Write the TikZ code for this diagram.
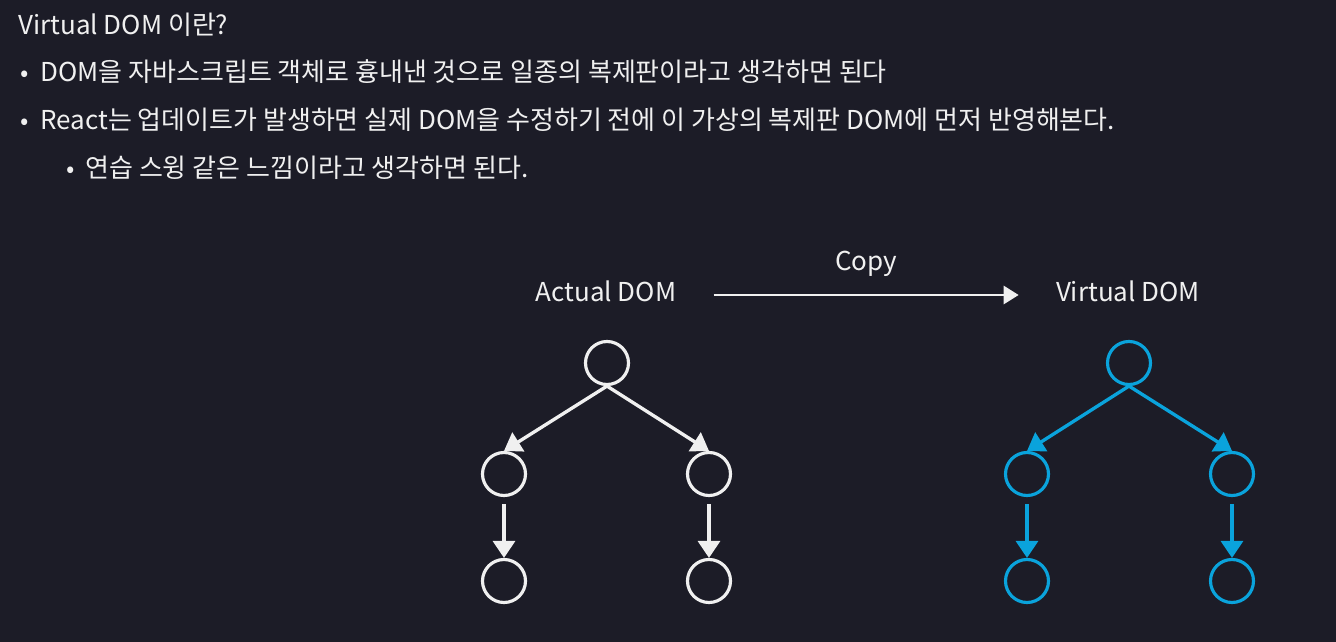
\documentclass[tikz,border=0pt]{standalone}
\usepackage{fontspec}
\setmainfont{Noto Sans CJK KR}
\usetikzlibrary{arrows.meta}

\definecolor{bgdark}{HTML}{1C1C27}
\definecolor{chalk}{HTML}{F0F0F0}
\definecolor{vblue}{HTML}{0AA3DC}

\begin{document}
\begin{tikzpicture}[
    x=0.02cm,
    y=-0.02cm,
    line/.style={
      font=\fontsize{14.8}{17}\selectfont,
      text=chalk,
      anchor=base west,
      inner sep=0pt
    },
    dot/.style={
      font=\fontsize{14}{16}\selectfont,
      text=chalk,
      anchor=base,
      inner sep=0pt
    },
    title/.style={
      font=\fontsize{14.8}{17}\selectfont,
      text=chalk,
      inner sep=0pt,
      text height=0.73em,
      text depth=0pt
    },
    dom/.style={
      circle,
      draw,
      line width=1.8pt,
      minimum size=0.86cm,
      inner sep=0pt
    },
    link/.style={
      line width=1.9pt,
      -{Triangle[length=0.34cm,width=0.44cm]}
    }
  ]

    % --- Background
    \fill[bgdark] (0,0) rectangle (1336,642);
    \useasboundingbox (0,0) rectangle (1336,642);

    % --- Text block
    \node[line] (head) at (18,35) {Virtual DOM 이란?};
    \node[dot] (b1) at (25,82) {•};
    \node[line] (t1) at (40,82) {DOM을 자바스크립트 객체로 흉내낸 것으로 일종의 복제판이라고 생각하면 된다};
    \node[dot] (b2) at (25,130) {•};
    \node[line] (t2) at (40,130) {React는 업데이트가 발생하면 실제 DOM을 수정하기 전에 이 가상의 복제판 DOM에 먼저 반영해본다.};
    \node[dot] (b3) at (71,177) {•};
    \node[line] (t3) at (85,177) {연습 스윙 같은 느낌이라고 생각하면 된다.};

    % --- Titles and copy arrow
    \node[title] (actual) at (606,295) {Actual DOM};
    \node[title] (virtual) at (1128,295) {Virtual DOM};
    \draw[chalk, line width=1.5pt, -{Triangle[length=0.3cm,width=0.36cm]},
          shorten <=0.74cm, shorten >=0.74cm]
      (actual.east) -- node[above=0.46cm, title] (copy) {Copy} (virtual.west);

    % --- Actual DOM tree
    \begin{scope}[chalk]
      \node[dom] (a0) at (607,363) {};
      \node[dom] (a1) at (504,474) {};
      \node[dom] (a2) at (709,474) {};
      \node[dom] (a3) at (504,581) {};
      \node[dom] (a4) at (709,581) {};
      \draw[link] (a0.south) -- (a1.north);
      \draw[link] (a0.south) -- (a2.north);
      \draw[link, shorten <=0.14cm] (a1.south) -- (a3.north);
      \draw[link, shorten <=0.14cm] (a2.south) -- (a4.north);
    \end{scope}

    % --- Virtual DOM tree
    \begin{scope}[vblue]
      \node[dom] (v0) at (1129,363) {};
      \node[dom] (v1) at (1027,474) {};
      \node[dom] (v2) at (1232,474) {};
      \node[dom] (v3) at (1027,581) {};
      \node[dom] (v4) at (1232,581) {};
      \draw[link] (v0.south) -- (v1.north);
      \draw[link] (v0.south) -- (v2.north);
      \draw[link, shorten <=0.14cm] (v1.south) -- (v3.north);
      \draw[link, shorten <=0.14cm] (v2.south) -- (v4.north);
    \end{scope}

  \end{tikzpicture}
\end{document}
